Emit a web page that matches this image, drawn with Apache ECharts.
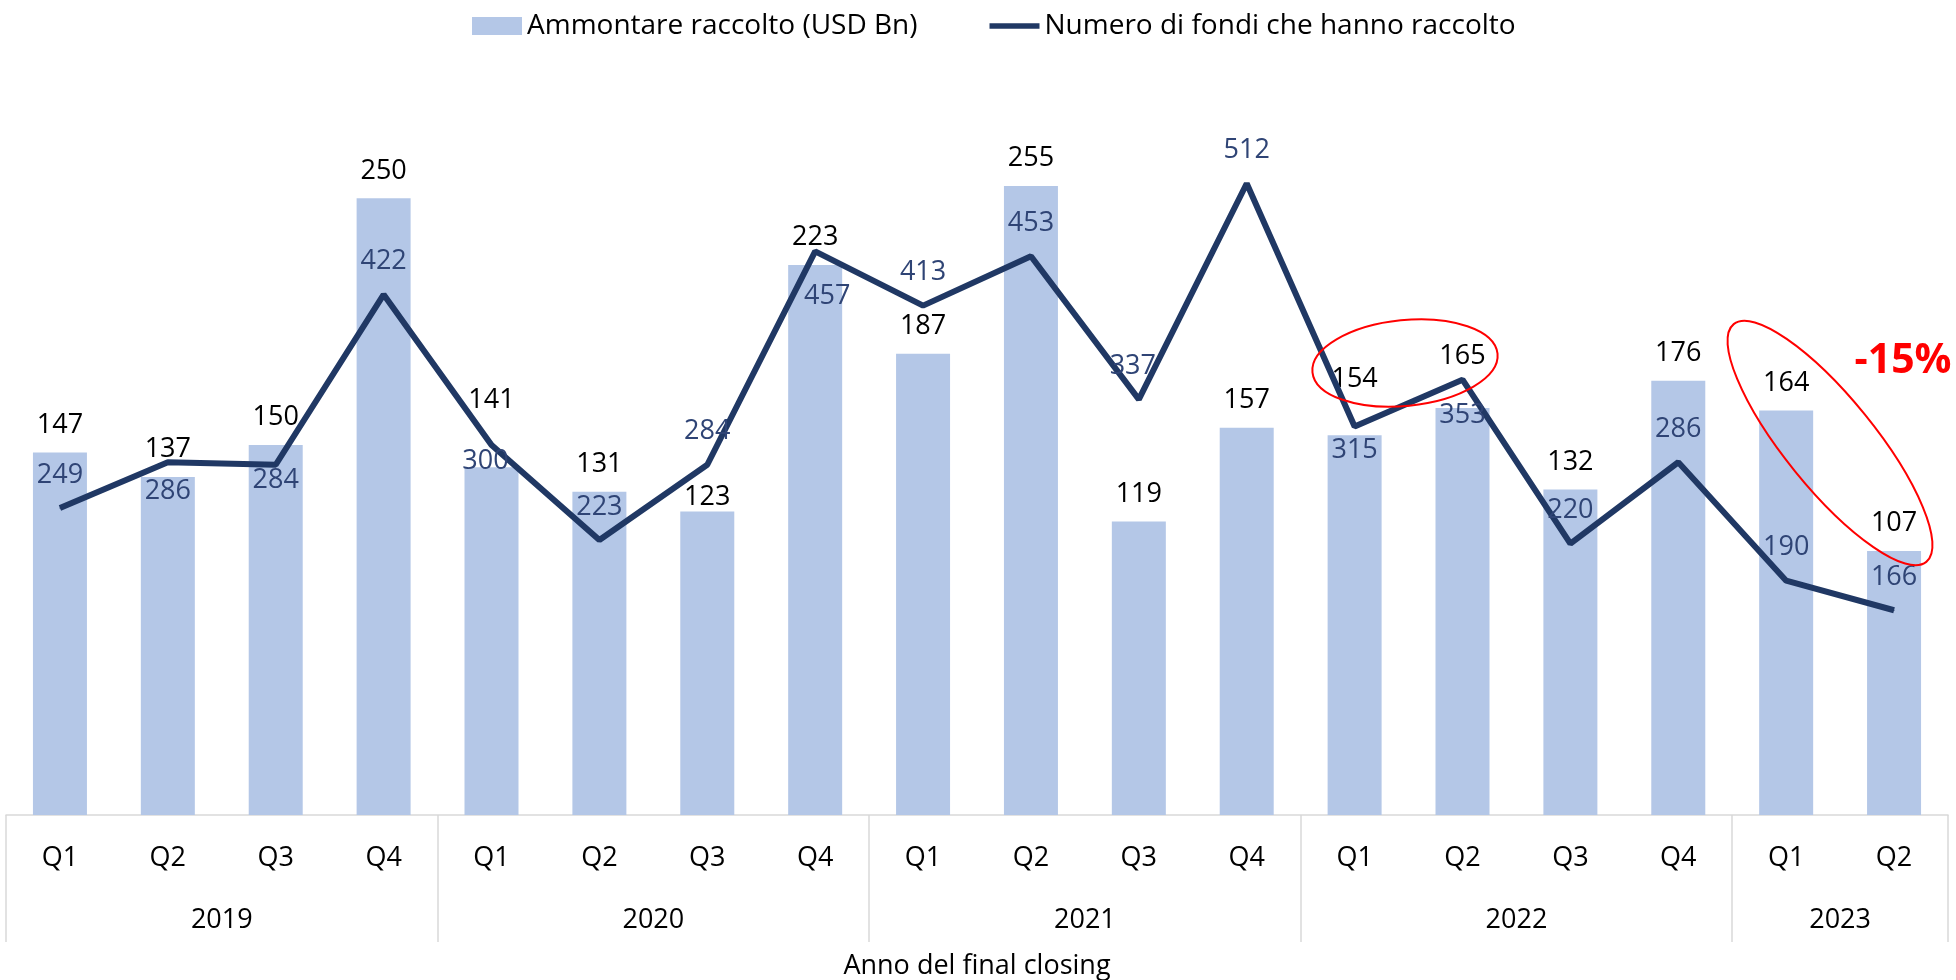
<!DOCTYPE html>
<html>
<head>
<meta charset="utf-8">
<script src="https://cdn.jsdelivr.net/npm/echarts@6/dist/echarts.min.js"></script>
<style>
  html, body { margin: 0; padding: 0; background: #fff; }
  #main { width: 1956px; height: 980px; }
</style>
</head>
<body>
<div id="main"></div>
<script>
// data
const quarters = ['Q1','Q2','Q3','Q4','Q1','Q2','Q3','Q4','Q1','Q2','Q3','Q4','Q1','Q2','Q3','Q4','Q1','Q2'];
const years = ['2019', '2020', '2021', '2022', '2023'];
const quartersPerYear = [4, 4, 4, 4, 2];
const amountRaised = [147, 137, 150, 250, 141, 131, 123, 223, 187, 255, 119, 157, 154, 165, 132, 176, 164, 107];
const fundsCount = [249, 286, 284, 422, 300, 223, 284, 457, 413, 453, 337, 512, 315, 353, 220, 286, 190, 166];

const FONT = 'Open Sans';
const NAVY = '#203864';
const BAR_BLUE = '#B4C7E7';
const GRID_GRAY = '#D9D9D9';

// year group boundaries and centres on a 0..18 value scale
let yearEdges = [0];
let yearCenters = [];
let yearByCenter = {};
quartersPerYear.forEach((n, i) => {
    let start = yearEdges[yearEdges.length - 1];
    yearEdges.push(start + n);
    yearCenters.push(start + n / 2);
    yearByCenter[start + n / 2] = years[i];
});

// label tweaks (Excel labels were moved by hand)
const barLabelDist = {4: 53, 6: 1, 12: 42, 13: 38};
const lineLabelBelow = {1: 15, 2: 2, 4: 2, 7: 31, 12: 10, 13: 22};
const lineLabelShiftX = {4: -6, 7: 12, 10: -6};

let chart = echarts.init(document.getElementById('main'));

let option = {
    animation: false,
    textStyle: { fontFamily: FONT },
    legend: {
        top: 7,
        left: 467,
        itemWidth: 50,
        itemHeight: 18,
        itemGap: 72,
        textStyle: { fontSize: 28, color: '#000', fontFamily: FONT },
        data: [
            { name: 'Ammontare raccolto (USD Bn)', icon: 'rect' },
            { name: 'Numero di fondi che hanno raccolto', icon: 'path://M0,0 L56,0 L56,6 L0,6 Z' }
        ]
    },
    grid: { left: 6, right: 8, top: 75, bottom: 165, outerBoundsMode: 'none', containLabel: false },
    xAxis: [
        {
            type: 'category',
            data: quarters,
            axisLine: { lineStyle: { color: GRID_GRAY, width: 1.5 } },
            axisTick: { show: false },
            axisLabel: { fontSize: 27, color: '#000', margin: 30 }
        },
        {
            type: 'value',
            min: 0,
            max: 18,
            interval: 1,
            position: 'bottom',
            axisLine: { show: false },
            splitLine: { show: false },
            axisTick: {
                show: true,
                customValues: yearEdges,
                length: 127,
                lineStyle: { color: GRID_GRAY, width: 1.5 }
            },
            axisLabel: {
                customValues: yearCenters,
                formatter: v => yearByCenter[v] || '',
                fontSize: 27,
                color: '#000',
                margin: 92
            },
            name: 'Anno del final closing',
            nameLocation: 'middle',
            nameGap: 138,
            nameTextStyle: { fontSize: 27, color: '#000' }
        }
    ],
    yAxis: [
        { type: 'value', min: 0, max: 300, show: false, splitLine: { show: false } },
        { type: 'value', min: 0, max: 600, show: false, splitLine: { show: false } }
    ],
    series: [
        {
            name: 'Ammontare raccolto (USD Bn)',
            type: 'bar',
            xAxisIndex: 0,
            yAxisIndex: 0,
            barWidth: 54,
            itemStyle: { color: BAR_BLUE },
            label: { show: true, position: 'top', distance: 14, fontSize: 27, color: '#000' },
            data: amountRaised.map((v, i) => barLabelDist[i] !== undefined
                ? { value: v, label: { distance: barLabelDist[i] } }
                : v)
        },
        {
            name: 'Numero di fondi che hanno raccolto',
            type: 'line',
            xAxisIndex: 0,
            yAxisIndex: 1,
            symbol: 'circle',
            symbolSize: 1,
            showSymbol: true,
            lineStyle: { color: NAVY, width: 6 },
            itemStyle: { color: NAVY },
            z: 3,
            label: { show: true, position: 'top', distance: 19, fontSize: 27, color: '#2F4475' },
            data: fundsCount.map((v, i) => {
                let lbl = {};
                if (lineLabelBelow[i] !== undefined) {
                    lbl.position = 'bottom';
                    lbl.distance = lineLabelBelow[i];
                }
                if (lineLabelShiftX[i] !== undefined) {
                    lbl.offset = [lineLabelShiftX[i], 0];
                }
                return Object.keys(lbl).length ? { value: v, label: lbl } : v;
            })
        }
    ],
    graphic: [
        {
            type: 'ellipse',
            shape: { cx: 0, cy: 0, rx: 93, ry: 43 },
            x: 1405, y: 363,
            rotation: 0.1,
            style: { fill: 'none', stroke: '#FF0000', lineWidth: 2 },
            z: 10
        },
        {
            type: 'ellipse',
            shape: { cx: 0, cy: 0, rx: 153, ry: 45 },
            x: 1830, y: 443,
            rotation: -0.89,
            style: { fill: 'none', stroke: '#FF0000', lineWidth: 2 },
            z: 10
        },
        {
            type: 'text',
            x: 1903, y: 361,
            style: {
                text: '-15%',
                fill: '#FF0000',
                font: 'bold 41px "Open Sans"',
                textAlign: 'center',
                textVerticalAlign: 'middle'
            },
            z: 10
        }
    ]
};

chart.setOption(option);
</script>
</body>
</html>
